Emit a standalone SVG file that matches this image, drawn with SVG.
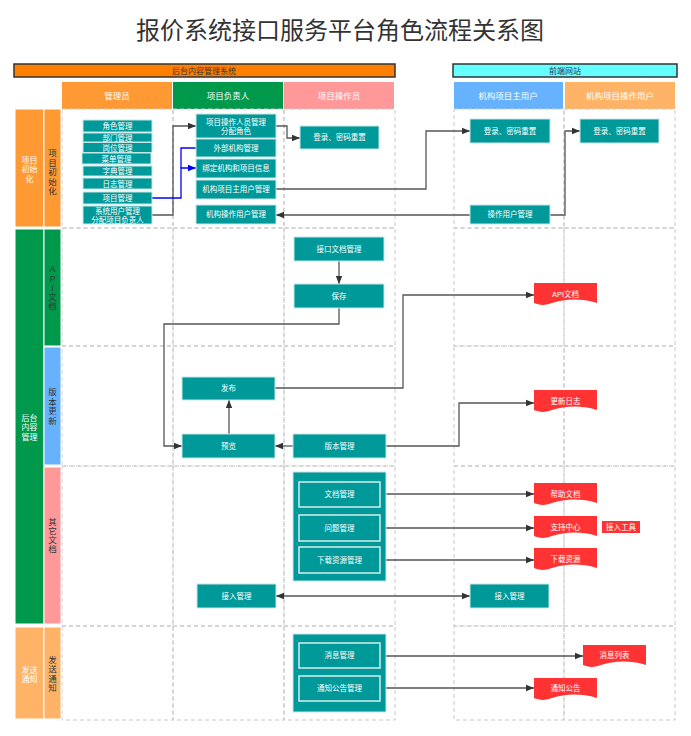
<svg xmlns="http://www.w3.org/2000/svg" width="691" height="736" viewBox="0 0 691 736">
<defs>
<style>
text{font-family:"Liberation Sans","Noto Sans CJK SC",sans-serif;text-anchor:middle;dominant-baseline:central}
.title{font-size:24px;fill:#333}
.bar{stroke:#333;stroke-width:1.5}
.bt{font-size:8px;fill:#333}
.ht{font-size:8.5px;fill:#fff}
.lane{fill:none;stroke:#C8C8C8;stroke-width:1;stroke-dasharray:4 3}
.n{fill:#009999;stroke:#C8E6E6;stroke-width:1}
.ni{fill:#009999;stroke:#D6EEEE;stroke-width:1.5}
.nt{font-size:7.5px;fill:#fff}
.doc{fill:#FF3333}
.dt{font-size:7.5px;fill:#fff}
.lab{stroke:#fff;stroke-width:1}
.lw{font-size:8px;fill:#fff}
.ld{font-size:8.5px;fill:#333}
.e{fill:none;stroke:#555;stroke-width:1.3}
.eb{fill:none;stroke:#0000FF;stroke-width:1.3}
</style>
<marker id="a" viewBox="0 0 10 10" refX="10" refY="5" markerWidth="8" markerHeight="8" markerUnits="userSpaceOnUse" orient="auto-start-reverse"><path d="M0,1 L10,5 L0,9 Z" fill="#333"/></marker>
<marker id="ab" viewBox="0 0 10 10" refX="10" refY="5" markerWidth="8" markerHeight="8" markerUnits="userSpaceOnUse" orient="auto"><path d="M0,1 L10,5 L0,9 Z" fill="#0000FF"/></marker>
</defs>

<text class="title" x="340" y="30">报价系统接口服务平台角色流程关系图</text>

<g id="headers">
<rect class="bar" x="14" y="64" width="381" height="13" fill="#FF8000"/>
<text class="bt" x="204" y="71">后台内容管理系统</text>
<rect class="bar" x="453" y="64" width="224" height="13" fill="#66FFFF"/>
<text class="bt" x="565" y="71">前端网站</text>
<rect x="62" y="82" width="110" height="27" fill="#FF9933"/><text class="ht" x="117" y="96">管理员</text>
<rect x="173" y="82" width="110" height="27" fill="#00994C"/><text class="ht" x="228" y="96">项目负责人</text>
<rect x="284" y="82" width="110" height="27" fill="#FF9999"/><text class="ht" x="339" y="96">项目操作员</text>
<rect x="454" y="82" width="109" height="27" fill="#66B2FF"/><text class="ht" x="508" y="96">机构项目主用户</text>
<rect x="565" y="82" width="110" height="27" fill="#FFB366"/><text class="ht" x="620" y="96">机构项目操作用户</text>
</g>

<g id="lanes">
<rect class="lane" x="62" y="109" width="111" height="119"/>
<rect class="lane" x="173" y="109" width="111" height="119"/>
<rect class="lane" x="284" y="109" width="111" height="119"/>
<rect class="lane" x="454" y="109" width="110" height="119"/>
<rect class="lane" x="564" y="109" width="111" height="119"/>
<rect class="lane" x="62" y="228" width="111" height="118"/>
<rect class="lane" x="173" y="228" width="111" height="118"/>
<rect class="lane" x="284" y="228" width="111" height="118"/>
<rect class="lane" x="454" y="228" width="110" height="118"/>
<rect class="lane" x="564" y="228" width="111" height="118"/>
<rect class="lane" x="62" y="346" width="111" height="120"/>
<rect class="lane" x="173" y="346" width="111" height="120"/>
<rect class="lane" x="284" y="346" width="111" height="120"/>
<rect class="lane" x="454" y="346" width="110" height="120"/>
<rect class="lane" x="564" y="346" width="111" height="120"/>
<rect class="lane" x="62" y="466" width="111" height="160"/>
<rect class="lane" x="173" y="466" width="111" height="160"/>
<rect class="lane" x="284" y="466" width="111" height="160"/>
<rect class="lane" x="454" y="466" width="110" height="160"/>
<rect class="lane" x="564" y="466" width="111" height="160"/>
<rect class="lane" x="62" y="626" width="111" height="94"/>
<rect class="lane" x="173" y="626" width="111" height="94"/>
<rect class="lane" x="284" y="626" width="111" height="94"/>
<rect class="lane" x="454" y="626" width="110" height="94"/>
<rect class="lane" x="564" y="626" width="111" height="94"/>
</g>

<g id="row-labels">
<rect class="lab" x="15" y="109" width="29" height="118" fill="#FF9933"/>
<text class="lw" x="29.5" y="160">项目</text><text class="lw" x="29.5" y="169.5">初始</text><text class="lw" x="29.5" y="179">化</text>
<rect class="lab" x="44" y="109" width="17" height="118" fill="#FF9933"/>
<text class="ld" x="52.5" y="153">项</text><text class="ld" x="52.5" y="162.5">目</text><text class="ld" x="52.5" y="172">初</text><text class="ld" x="52.5" y="181.5">始</text><text class="ld" x="52.5" y="191">化</text>

<rect class="lab" x="15" y="229" width="29" height="395" fill="#00994C"/>
<text class="lw" x="29.5" y="418">后台</text><text class="lw" x="29.5" y="427.5">内容</text><text class="lw" x="29.5" y="437">管理</text>
<rect class="lab" x="44" y="229" width="17" height="117" fill="#00994C"/>
<text class="ld" x="52.5" y="269">A</text><text class="ld" x="52.5" y="279">P</text><text class="ld" x="52.5" y="288">I</text><text class="ld" x="52.5" y="297">文</text><text class="ld" x="52.5" y="306">档</text>
<rect class="lab" x="44" y="347" width="17" height="118" fill="#66B2FF"/>
<text class="ld" x="52.5" y="392">版</text><text class="ld" x="52.5" y="401.5">本</text><text class="ld" x="52.5" y="411">更</text><text class="ld" x="52.5" y="420.5">新</text>
<rect class="lab" x="44" y="467" width="17" height="157" fill="#FF9999"/>
<text class="ld" x="52.5" y="522">其</text><text class="ld" x="52.5" y="531">它</text><text class="ld" x="52.5" y="540">文</text><text class="ld" x="52.5" y="549">档</text>

<rect class="lab" x="15" y="627" width="29" height="92" fill="#FFB366"/>
<text class="lw" x="29.5" y="670">发送</text><text class="lw" x="29.5" y="679.5">通知</text>
<rect class="lab" x="44" y="627" width="17" height="92" fill="#FFB366"/>
<text class="ld" x="52.5" y="660">发</text><text class="ld" x="52.5" y="669">送</text><text class="ld" x="52.5" y="679">通</text><text class="ld" x="52.5" y="688">知</text>
</g>

<g id="connectors">
<path class="e" d="M152,215 H173 V126 H196" marker-end="url(#a)"/>
<path class="eb" d="M152,198 H181 V168 H196" marker-end="url(#ab)"/>
<path class="eb" d="M196,148 H181 V168"/>
<path class="e" d="M276,126 H287 V138 H300" marker-end="url(#a)"/>
<path class="e" d="M276,189 H426 V131 H470" marker-end="url(#a)"/>
<path class="e" d="M470,215 H276" marker-end="url(#a)"/>
<path class="e" d="M550,215 H565 V131 H580" marker-end="url(#a)"/>
<path class="e" d="M339,261 V284" marker-end="url(#a)"/>
<path class="e" d="M339,308 V324 H164 V446 H182" marker-end="url(#a)"/>
<path class="e" d="M293,446 H275" marker-end="url(#a)"/>
<path class="e" d="M229,434 V400" marker-end="url(#a)"/>
<path class="e" d="M275,388 H403 V295 H534" marker-end="url(#a)"/>
<path class="e" d="M386,446 H459 V403 H534" marker-end="url(#a)"/>
<path class="e" d="M380,494 H534" marker-end="url(#a)"/>
<path class="e" d="M380,528 H534" marker-end="url(#a)"/>
<path class="e" d="M380,560 H534" marker-end="url(#a)"/>
<path class="e" d="M276,596 H470" marker-start="url(#a)" marker-end="url(#a)"/>
<path class="e" d="M380,656 H583" marker-end="url(#a)"/>
<path class="e" d="M380,688 H534" marker-end="url(#a)"/>
</g>

<g id="n-role"><rect class="n" x="83" y="120" width="69" height="12"/><text class="nt" x="117.5" y="126.5">角色管理</text></g>
<g id="n-dept"><rect class="n" x="83" y="133" width="69" height="9"/><text class="nt" x="117.5" y="138">部门管理</text></g>
<g id="n-post"><rect class="n" x="83" y="142.5" width="69" height="10"/><text class="nt" x="117.5" y="148">岗位管理</text></g>
<g id="n-menu"><rect class="n" x="82" y="153" width="69" height="11"/><text class="nt" x="116.5" y="159">菜单管理</text></g>
<g id="n-dict"><rect class="n" x="83" y="166" width="69" height="10"/><text class="nt" x="117.5" y="171.5">字典管理</text></g>
<g id="n-log"><rect class="n" x="83" y="178" width="69" height="11"/><text class="nt" x="117.5" y="184">日志管理</text></g>
<g id="n-proj"><rect class="n" x="83" y="192" width="69" height="12"/><text class="nt" x="117.5" y="198">项目管理</text></g>
<g id="n-sysuser"><rect class="n" x="83" y="206" width="69" height="18"/><text class="nt" x="117.5" y="211">系统用户管理</text><text class="nt" x="117.5" y="220">分配项目负责人</text></g>

<g id="n-opmgr"><rect class="n" x="196" y="114" width="80" height="24"/><text class="nt" x="236" y="122">项目操作人员管理</text><text class="nt" x="236" y="131">分配角色</text></g>
<g id="n-extorg"><rect class="n" x="196" y="139" width="80" height="18"/><text class="nt" x="236" y="148">外部机构管理</text></g>
<g id="n-bind"><rect class="n" x="196" y="159" width="80" height="19"/><text class="nt" x="236" y="168.5">绑定机构和项目信息</text></g>
<g id="n-orgmain"><rect class="n" x="196" y="180" width="80" height="19"/><text class="nt" x="236" y="189.5">机构项目主用户管理</text></g>
<g id="n-orgop"><rect class="n" x="196" y="205" width="80" height="19"/><text class="nt" x="236" y="214.5">机构操作用户管理</text></g>

<g id="n-login1"><rect class="n" x="300" y="126" width="79" height="23"/><text class="nt" x="339.5" y="137.5">登录、密码重置</text></g>
<g id="n-login2"><rect class="n" x="470" y="119" width="80" height="24"/><text class="nt" x="510" y="131">登录、密码重置</text></g>
<g id="n-login3"><rect class="n" x="580" y="119" width="79" height="24"/><text class="nt" x="619.5" y="131">登录、密码重置</text></g>
<g id="n-opuser"><rect class="n" x="470" y="205" width="80" height="19"/><text class="nt" x="510" y="214.5">操作用户管理</text></g>

<g id="n-apidoc"><rect class="n" x="294" y="237" width="90" height="24"/><text class="nt" x="339" y="249">接口文档管理</text></g>
<g id="n-save"><rect class="n" x="294" y="284" width="90" height="24"/><text class="nt" x="339" y="296">保存</text></g>
<g id="n-publish"><rect class="n" x="182" y="377" width="93" height="23"/><text class="nt" x="228.5" y="388.5">发布</text></g>
<g id="n-preview"><rect class="n" x="182" y="434" width="93" height="24"/><text class="nt" x="228.5" y="446">预览</text></g>
<g id="n-version"><rect class="n" x="293" y="434" width="93" height="24"/><text class="nt" x="339.5" y="446">版本管理</text></g>

<g id="d-api"><path class="doc" d="M534,283 H597 V303 C580,298 565,299 552,303 C544,306 539,305 534,303 Z"/><text class="dt" x="565.5" y="294">API文档</text></g>
<g id="d-changelog"><path class="doc" d="M534,390 H597 V410 C580,405 565,406 552,410 C544,413 539,412 534,410 Z"/><text class="dt" x="565.5" y="401">更新日志</text></g>

<g id="n-otherdocs">
<rect class="n" x="293" y="472" width="93" height="109"/>
<g id="n-docmgr"><rect class="ni" x="299" y="482" width="81" height="25"/><text class="nt" x="339.5" y="494.5">文档管理</text></g>
<g id="n-issue"><rect class="ni" x="299" y="515" width="81" height="26"/><text class="nt" x="339.5" y="528">问题管理</text></g>
<g id="n-download"><rect class="ni" x="299" y="547" width="81" height="26"/><text class="nt" x="339.5" y="560">下载资源管理</text></g>
</g>
<g id="d-help"><path class="doc" d="M534,483 H597 V503 C580,498 565,499 552,503 C544,506 539,505 534,503 Z"/><text class="dt" x="565.5" y="494">帮助文档</text></g>
<g id="d-support"><path class="doc" d="M534,516 H597 V536 C580,531 565,532 552,536 C544,539 539,538 534,536 Z"/><text class="dt" x="565.5" y="527">支持中心</text></g>
<g id="n-tool"><rect x="602" y="521" width="38" height="12" fill="#FF3333"/><text class="dt" x="621" y="527">接入工具</text></g>
<g id="d-download"><path class="doc" d="M534,548 H597 V568 C580,563 565,564 552,568 C544,571 539,570 534,568 Z"/><text class="dt" x="565.5" y="559">下载资源</text></g>
<g id="n-access1"><rect class="n" x="197" y="584" width="79" height="24"/><text class="nt" x="236.5" y="596">接入管理</text></g>
<g id="n-access2"><rect class="n" x="470" y="584" width="79" height="24"/><text class="nt" x="509.5" y="596">接入管理</text></g>

<g id="n-notify">
<rect class="n" x="293" y="634" width="93" height="78"/>
<g id="n-msg"><rect class="ni" x="299" y="643" width="81" height="25"/><text class="nt" x="339.5" y="655.5">消息管理</text></g>
<g id="n-notice"><rect class="ni" x="299" y="676" width="81" height="25"/><text class="nt" x="339.5" y="688.5">通知公告管理</text></g>
</g>
<g id="d-msglist"><path class="doc" d="M583,645 H646 V665 C629,660 614,661 601,665 C593,668 588,667 583,665 Z"/><text class="dt" x="614.5" y="655">消息列表</text></g>
<g id="d-notice"><path class="doc" d="M534,678 H597 V698 C580,693 565,694 552,698 C544,701 539,700 534,698 Z"/><text class="dt" x="565.5" y="688">通知公告</text></g>
</svg>
